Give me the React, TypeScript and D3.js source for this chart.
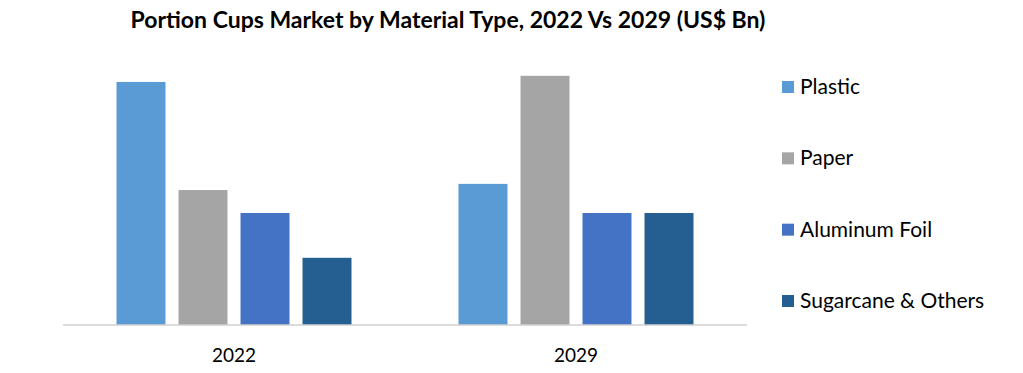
import React from "react";
import * as d3 from "d3";

const years = ["2022", "2029"];
const materials = ["Plastic", "Paper", "Aluminum Foil", "Sugarcane & Others"];
const values2022 = [4.34, 2.41, 2.0, 1.2];
const values2029 = [2.52, 4.45, 2.0, 2.0];
const colors = ["#5b9bd5", "#a5a5a5", "#4472c4", "#255e91"];
const title = "Portion Cups Market by Material Type, 2022 Vs 2029 (US$ Bn)";

const W = 1023;
const H = 373;
const FONT = "Lato, 'Open Sans', sans-serif";

export default function App() {
  const seriesByYear = [values2022, values2029];
  const x0 = d3.scaleBand<string>().domain(years).range([63, 747]).padding(0);
  const x1 = d3
    .scaleBand<string>()
    .domain(materials)
    .range([0, x0.bandwidth()])
    .paddingInner(0.21)
    .paddingOuter(0.863);
  const y = d3.scaleLinear().domain([0, 5]).range([325, 45]);

  const legendY = d3.scalePoint<string>().domain(materials).range([87, 301]);

  return (
    <svg width={W} height={H} style={{ position: "absolute", left: 0, top: 0 }}>
      <rect x={0} y={0} width={W} height={H} fill="#ffffff" />
      <text
        x={448}
        y={28}
        textAnchor="middle"
        fontFamily={FONT}
        fontWeight="bold"
        fontSize={23}
        fill="#000"
      >
        {title}
      </text>
      {years.map((yr, gi) => (
        <g key={yr} transform={`translate(${x0(yr)},0)`}>
          {materials.map((m, i) => {
            const v = seriesByYear[gi][i];
            return (
              <rect
                key={m}
                x={x1(m)}
                y={y(v)}
                width={x1.bandwidth()}
                height={y(0) - y(v)}
                fill={colors[i]}
              />
            );
          })}
          <text
            x={x0.bandwidth() / 2}
            y={362}
            textAnchor="middle"
            fontFamily={FONT}
            fontSize={19}
            fill="#000"
          >
            {yr}
          </text>
        </g>
      ))}
      <line x1={63} x2={747} y1={y(0)} y2={y(0)} stroke="#d0d0d0" strokeWidth={1.5} />
      {materials.map((m, i) => (
        <g key={m} transform={`translate(782,${legendY(m)})`}>
          <rect x={0} y={-6} width={12} height={12} fill={colors[i]} />
          <text x={18} y={7} fontFamily={FONT} fontSize={21} fill="#000">
            {m}
          </text>
        </g>
      ))}
    </svg>
  );
}
